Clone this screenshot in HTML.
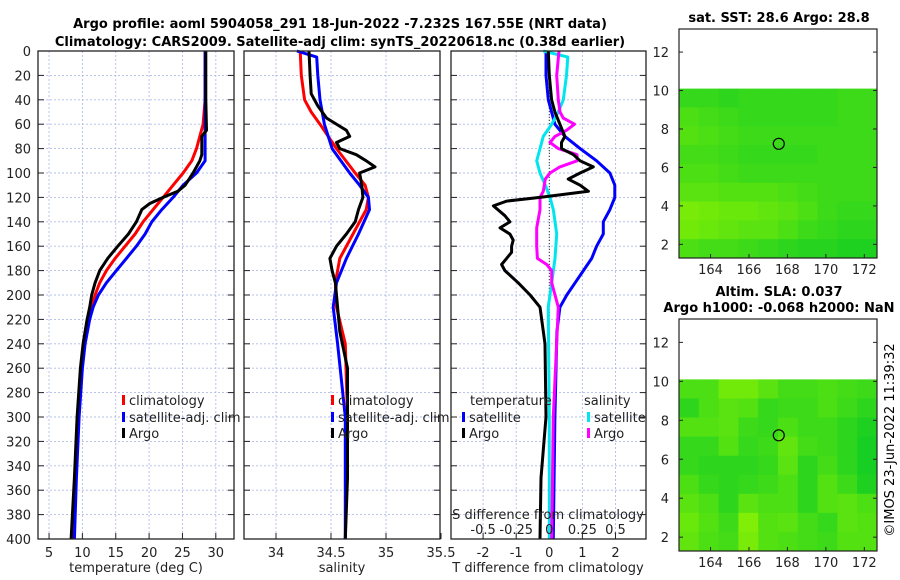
<!DOCTYPE html>
<html><head><meta charset="utf-8">
<style>
html,body{margin:0;padding:0;background:#fff;}
svg{display:block;font-family:"DejaVu Sans","Liberation Sans",sans-serif;}
</style></head>
<body>
<svg id="fig" width="900" height="580" viewBox="0 0 900 580" xmlns="http://www.w3.org/2000/svg">
<text x="340" y="28" font-size="13" font-weight="bold" text-anchor="middle">Argo profile: aoml 5904058_291 18-Jun-2022 -7.232S 167.55E (NRT data)</text>
<text x="340" y="46" font-size="13" font-weight="bold" text-anchor="middle">Climatology: CARS2009. Satellite-adj clim: synTS_20220618.nc (0.38d earlier)</text>
<text x="779" y="22" font-size="13" font-weight="bold" text-anchor="middle">sat. SST: 28.6 Argo: 28.8</text>
<text x="779" y="296" font-size="13" font-weight="bold" text-anchor="middle">Altim. SLA: 0.037</text>
<text x="779" y="312" font-size="13" font-weight="bold" text-anchor="middle">Argo h1000: -0.068 h2000: NaN</text>
<text x="0" y="0" font-size="13" text-anchor="middle" transform="translate(894,440) rotate(-90)">©IMOS 23-Jun-2022 11:39:32</text>
<g id="g"></g>
</svg>
<script>
// ---------- data ----------
const tDepth  = [0,20,40,60,80,90,100,110,120,130,140,150,160,170,180,190,200,210,220,240,260,300,350,400];
const tClim   = [28.4,28.4,28.4,28.1,27.1,26.4,25.1,23.6,22.1,20.6,19.1,17.9,16.4,14.9,13.6,12.6,11.9,11.4,10.9,10.2,9.8,9.3,8.9,8.5];
const tSatDepth=[0,20,40,60,80,90,100,110,120,130,140,150,160,170,180,190,200,210,220,240,260,300,350,400];
const tSat    = [28.4,28.4,28.4,28.4,28.4,28.4,27.1,25.1,23.6,21.9,20.4,19.4,18.1,16.6,15.1,13.6,12.4,11.6,11.1,10.4,10.0,9.5,9.1,8.8];
const tArgoDepth=[0,20,40,65,70,85,90,100,110,115,120,125,130,140,150,160,170,180,190,200,210,220,240,260,300,350,400];
const tArgo   = [28.5,28.5,28.5,28.6,27.9,27.9,27.6,26.6,25.4,24.3,22.1,20.1,18.9,18.1,16.9,15.3,13.8,12.6,11.9,11.4,11.1,10.7,10.1,9.7,9.2,8.8,8.3];

const sClimDepth=[0,20,40,50,60,80,100,110,120,130,150,170,190,210,240,300,400];
const sClim   = [34.22,34.23,34.26,34.32,34.40,34.55,34.72,34.81,34.84,34.82,34.70,34.58,34.54,34.55,34.63,34.65,34.63];
const sSatDepth=[0,5,20,40,60,80,100,110,120,130,150,170,190,210,240,300,400];
const sSat    = [34.19,34.37,34.38,34.40,34.44,34.51,34.67,34.76,34.84,34.85,34.75,34.64,34.55,34.52,34.56,34.63,34.63];
const sArgoDepth=[0,20,35,45,55,65,70,75,80,85,90,95,100,110,120,130,140,150,160,170,180,190,200,210,230,260,300,350,400];
const sArgo   = [34.30,34.31,34.32,34.38,34.46,34.64,34.67,34.55,34.58,34.73,34.82,34.90,34.76,34.78,34.79,34.75,34.72,34.64,34.55,34.49,34.51,34.54,34.55,34.56,34.58,34.65,34.65,34.65,34.63];

const dtArgoDepth=[0,20,40,50,60,70,75,80,85,90,95,100,105,110,115,120,123,127,135,140,145,150,155,160,165,170,175,180,190,200,210,240,300,350,400];
const dtArgo  = [-0.03,0,0.07,0.17,0.32,0.47,0.37,0.37,0.73,0.93,1.33,0.93,0.57,0.93,1.18,-0.28,-1.29,-1.69,-1.34,-1.19,-1.49,-1.19,-1.09,-1.14,-1.14,-1.29,-1.44,-1.34,-0.94,-0.58,-0.28,-0.13,-0.1,-0.25,-0.28];
const dtSatDepth=[0,20,40,50,60,70,80,90,100,110,120,130,140,150,160,170,180,190,200,210,230,300,400];
const dtSat   = [-0.1,-0.1,-0.03,0.07,0.17,0.47,0.93,1.43,1.83,1.98,1.98,1.83,1.63,1.63,1.43,1.28,1.03,0.78,0.53,0.32,0.23,0.17,0.12];
const dsSatDepth=[0,5,20,40,50,60,70,80,90,100,110,120,130,150,170,190,210,300,400];
const dsSat   = [-0.045,0.14,0.13,0.106,0.068,0.018,-0.045,-0.07,-0.095,-0.07,-0.03,0.005,0.03,0.056,0.043,0.018,-0.008,0,0];
const dsArgoDepth=[0,20,40,50,55,60,65,70,75,80,85,90,95,100,105,115,120,130,145,160,170,175,180,190,200,210,300,400];
const dsArgo  = [0.073,0.056,0.068,0.081,0.106,0.19,0.13,0.043,0.005,0.068,0.21,0.21,0.08,0.005,-0.03,-0.045,-0.07,-0.07,-0.095,-0.095,-0.09,-0.02,0.018,0.018,0.043,0.068,0.03,0.018];

const depthTicks=[0,20,40,60,80,100,120,140,160,180,200,220,240,260,280,300,320,340,360,380,400];
const tTicks=[5,10,15,20,25,30];
const sTicks=[34,34.5,35,35.5];
const dTicks=[-2,-1,0,1,2];
const dsTicks=[-0.5,-0.25,0,0.25,0.5];
const latTicks=[2,4,6,8,10,12];
const lonTicks=[164,166,168,170,172];

const sstGrid=[
[0.35,0.35,0.3,0.35,0.35,0.35,0.35,0.35,0.4,0.4],
[0.5,0.45,0.4,0.35,0.35,0.35,0.35,0.35,0.4,0.4],
[0.55,0.5,0.45,0.4,0.4,0.4,0.4,0.4,0.4,0.4],
[0.45,0.45,0.4,0.35,0.35,0.35,0.35,0.4,0.4,0.4],
[0.5,0.5,0.45,0.4,0.4,0.4,0.4,0.4,0.4,0.4],
[0.6,0.6,0.55,0.55,0.55,0.5,0.45,0.4,0.4,0.4],
[0.8,0.75,0.7,0.7,0.65,0.6,0.5,0.4,0.35,0.35],
[0.75,0.7,0.65,0.6,0.6,0.5,0.4,0.35,0.3,0.3],
[0.5,0.45,0.45,0.4,0.35,0.3,0.25,0.25,0.2,0.2]];
const slaGrid=[
[0.5,0.5,0.75,0.75,0.6,0.45,0.45,0.5,0.45,0.4],
[0.3,0.5,0.6,0.55,0.35,0.4,0.4,0.5,0.4,0.3],
[0.55,0.55,0.6,0.4,0.35,0.5,0.4,0.4,0.3,0.2],
[0.35,0.35,0.55,0.35,0.4,0.65,0.45,0.4,0.3,0.15],
[0.35,0.3,0.3,0.3,0.35,0.6,0.3,0.45,0.3,0.15],
[0.5,0.35,0.3,0.35,0.4,0.5,0.3,0.55,0.4,0.2],
[0.6,0.5,0.3,0.6,0.5,0.5,0.3,0.55,0.6,0.5],
[0.7,0.55,0.4,0.85,0.55,0.6,0.45,0.35,0.6,0.55],
[0.65,0.5,0.45,0.8,0.55,0.5,0.45,0.4,0.55,0.55]];
const floatLon=167.55, floatLat=7.23;

// ---------- helpers ----------
const NS="http://www.w3.org/2000/svg";
const G=document.getElementById('g');
function mk(tag,attrs,parent){const e=document.createElementNS(NS,tag);for(const k in attrs)e.setAttribute(k,attrs[k]);(parent||G).appendChild(e);return e;}
const Y0=51,Y1=539;
const yD=d=>Y0+(Y1-Y0)*d/400;
const xT=t=>15.7+6.67*t;
const xS=s=>276+110*(s-34);
const xDT=t=>549.3+33.1*t;
const xDS=s=>549.3+33.1*4*s;

function panel(name,x0,x1,xt,ticks,fmt){
  const g=mk('g',{});
  
  
  depthTicks.forEach(d=>{if(d>0&&d<400){const l=mk('line',{x1:x0,x2:x1,y1:yD(d),y2:yD(d),stroke:'#b0bce8','stroke-width':0.9,'stroke-dasharray':'2,2'},g);}});
  ticks.forEach(v=>{const x=xt(v);if(x>x0&&x<x1){const l=mk('line',{x1:x,x2:x,y1:Y0,y2:Y1,stroke:'#b0bce8','stroke-width':0.9,'stroke-dasharray':'2,2'},g);}
    const t=mk('text',{x:x,y:557,'font-size':13,'text-anchor':'middle',fill:'#222'},g);t.textContent=fmt(v);
    mk('line',{x1:x,x2:x,y1:Y1,y2:Y1-6,stroke:'#222'},g);});
  depthTicks.forEach(d=>{mk('line',{x1:x0,x2:x0+6,y1:yD(d),y2:yD(d),stroke:'#222'},g);mk('line',{x1:x1,x2:x1-6,y1:yD(d),y2:yD(d),stroke:'#222'},g);});
  return g;
}
function frame(g,x0,x1){const r=mk('rect',{x:x0,y:Y0,width:x1-x0,height:Y1-Y0,fill:'none',stroke:'#222','stroke-width':1.3},g);}
function line(g,name,xs,ds,xf,col,w){
  const p=ds.map((d,i)=>(i?'L':'M')+xf(xs[i]).toFixed(1)+','+yD(d).toFixed(1)).join('');
  const e=mk('path',{d:p,fill:'none',stroke:col,'stroke-width':w||3,'stroke-linejoin':'round'},g);
  
  
}
function legend(g,x,y,col,label){
  const r=mk('rect',{x:x,y:y-10,width:3,height:10,fill:col},g);
  
  const t=mk('text',{x:x+7,y:y,'font-size':13,fill:'#222'},g);t.textContent=label;
  
}

// y tick labels (panel 1)
depthTicks.forEach(d=>{const t=mk('text',{x:31,y:yD(d)+5,'font-size':13,'text-anchor':'end',fill:'#222'});t.textContent=d;
  });

// Panel 1 temperature
let p1=panel('temperature-panel',38,234,xT,tTicks,v=>v);
line(p1,'temp-climatology',tClim,tDepth,xT,'#ff0000');
line(p1,'temp-satellite-clim',tSat,tSatDepth,xT,'#0000ff');
line(p1,'temp-argo',tArgo,tArgoDepth,xT,'#000');
frame(p1,38,234);
legend(p1,122,405,'#ff0000','climatology');
legend(p1,122,422,'#0000ff','satellite-adj. clim');
legend(p1,122,438,'#000','Argo');
let xl=mk('text',{x:136,y:572,'font-size':13,'text-anchor':'middle',fill:'#222'});xl.textContent='temperature (deg C)';


// Panel 2 salinity
let p2=panel('salinity-panel',244,440,xS,sTicks,v=>v);
line(p2,'sal-climatology',sClim,sClimDepth,xS,'#ff0000');
line(p2,'sal-satellite-clim',sSat,sSatDepth,xS,'#0000ff');
line(p2,'sal-argo',sArgo,sArgoDepth,xS,'#000');
frame(p2,244,440);
legend(p2,331,405,'#ff0000','climatology');
legend(p2,331,422,'#0000ff','satellite-adj. clim');
legend(p2,331,438,'#000','Argo');
xl=mk('text',{x:342,y:572,'font-size':13,'text-anchor':'middle',fill:'#222'});xl.textContent='salinity';


// Panel 3 differences
let p3=panel('difference-panel',451,646,xDT,dTicks,v=>v);
const zl=mk('line',{x1:xDT(0),x2:xDT(0),y1:Y0,y2:Y1,stroke:'#333','stroke-width':1,'stroke-dasharray':'1,2'},p3);

line(p3,'tdiff-satellite',dtSat,dtSatDepth,xDT,'#0000ff');
line(p3,'sdiff-satellite',dsSat,dsSatDepth,xDS,'#00e5ee');
line(p3,'sdiff-argo',dsArgo,dsArgoDepth,xDS,'#ff00ff');
line(p3,'tdiff-argo',dtArgo,dtArgoDepth,xDT,'#000');
frame(p3,451,646);
let tt=mk('text',{x:470,y:405,'font-size':13,fill:'#222'},p3);tt.textContent='temperature';

tt=mk('text',{x:584,y:405,'font-size':13,fill:'#222'},p3);tt.textContent='salinity';

legend(p3,462,422,'#0000ff','satellite');
legend(p3,462,438,'#000','Argo');
legend(p3,587,422,'#00e5ee','satellite');
legend(p3,587,438,'#ff00ff','Argo');
tt=mk('text',{x:548,y:519,'font-size':13,'text-anchor':'middle',fill:'#222'},p3);tt.textContent='S difference from climatology';

dsTicks.forEach(v=>{const t=mk('text',{x:xDS(v),y:534,'font-size':13,'text-anchor':'middle',fill:'#222'},p3);t.textContent=v;
  });
xl=mk('text',{x:548,y:572,'font-size':13,'text-anchor':'middle',fill:'#222'});xl.textContent='T difference from climatology';


// ---------- maps ----------
function col(v){const a=[0,200,40],b=[150,245,0];return 'rgb('+a.map((c,i)=>Math.round(c+(b[i]-c)*v)).join(',')+')';}
function map(name,top,bottom,grid){
  const X0=679,X1=877,lonL=162.36,lonR=172.66,latT=13.2,latB=1.29;
  const lx=lo=>X0+(X1-X0)*(lo-lonL)/(lonR-lonL);
  const ly=la=>top+(bottom-top)*(latT-la)/(latT-latB);
  const g=mk('g',{});
  
  const rows=grid.length,cols=grid[0].length;
  const gy0=ly(10.1),gy1=ly(latB);
  grid.forEach((row,r)=>row.forEach((v,c)=>{
    const cell=mk('rect',{x:X0+(X1-X0)*c/cols,y:gy0+(gy1-gy0)*r/rows,width:(X1-X0)/cols+0.5,height:(gy1-gy0)/rows+0.5,fill:col(v)},g);
    
  }));
  const c=mk('circle',{cx:lx(floatLon),cy:ly(floatLat),r:5.5,fill:'none',stroke:'#000','stroke-width':1.2},g);
  
  mk('rect',{x:X0,y:top,width:X1-X0,height:bottom-top,fill:'none',stroke:'#222','stroke-width':1.2},g);
  latTicks.forEach(la=>{const y=ly(la);mk('line',{x1:X0,x2:X0+4,y1:y,y2:y,stroke:'#222'},g);mk('line',{x1:X1,x2:X1-4,y1:y,y2:y,stroke:'#222'},g);
    const t=mk('text',{x:X0-10,y:y+5,'font-size':13,'text-anchor':'end',fill:'#222'},g);t.textContent=la;
    });
  lonTicks.forEach(lo=>{const x=lx(lo);mk('line',{x1:x,x2:x,y1:bottom,y2:bottom-4,stroke:'#222'},g);
    const t=mk('text',{x:x,y:bottom+16,'font-size':13,'text-anchor':'middle',fill:'#222'},g);t.textContent=lo;
    });
}
map('sst-map',29,258,sstGrid);
map('sla-map',319,551,slaGrid);
</script>
</body></html>
